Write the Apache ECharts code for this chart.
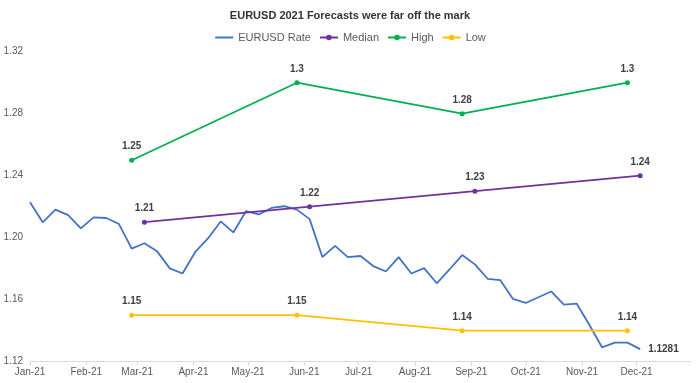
<!DOCTYPE html>
<html><head><meta charset="utf-8">
<script src="https://cdn.jsdelivr.net/npm/echarts@6/dist/echarts.min.js"></script>
<style>html,body{margin:0;padding:0;background:#fff}#c{width:700px;height:383px}</style>
</head><body><div id="c"></div>
<script>
const chartTitle = 'EURUSD 2021 Forecasts were far off the mark';
const rateDates = [
  '2021-01-01','2021-01-08','2021-01-15','2021-01-22','2021-01-29',
  '2021-02-05','2021-02-12','2021-02-19','2021-02-26',
  '2021-03-05','2021-03-12','2021-03-19','2021-03-26',
  '2021-04-02','2021-04-09','2021-04-16','2021-04-23','2021-04-30',
  '2021-05-07','2021-05-14','2021-05-21','2021-05-28',
  '2021-06-04','2021-06-11','2021-06-18','2021-06-25',
  '2021-07-02','2021-07-09','2021-07-16','2021-07-23','2021-07-30',
  '2021-08-06','2021-08-13','2021-08-20','2021-08-27',
  '2021-09-03','2021-09-10','2021-09-17','2021-09-24',
  '2021-10-01','2021-10-08','2021-10-15','2021-10-22','2021-10-29',
  '2021-11-05','2021-11-12','2021-11-19','2021-11-26',
  '2021-12-03'
];
const rateValues = [
  1.2229,1.2099,1.2181,1.2146,1.2060,1.2131,1.2127,1.2088,1.1930,1.1964,
  1.1912,1.1802,1.1769,1.1908,1.1995,1.2105,1.2034,1.2172,1.2150,1.2192,
  1.2203,1.2181,1.2120,1.1875,1.1947,1.1875,1.1882,1.1817,1.1782,1.1875,
  1.1769,1.1804,1.1706,1.1795,1.1888,1.1828,1.1735,1.1726,1.1605,1.1579,
  1.1616,1.1653,1.1568,1.1575,1.1438,1.1293,1.1323,1.1323,1.1281
];
const highLowDates = ['2021-02-26','2021-05-28','2021-08-27','2021-11-26'];
const medianDates = ['2021-03-05','2021-06-04','2021-09-03','2021-12-03'];
const medianValues = [1.21, 1.22, 1.23, 1.24];
const highValues = [1.25, 1.30, 1.28, 1.30];
const lowValues = [1.15, 1.15, 1.14, 1.14];
const monthTickDates = ['2021-01-01','2021-02-01','2021-03-01','2021-04-01','2021-05-01','2021-06-01',
  '2021-07-01','2021-08-01','2021-09-01','2021-10-01','2021-11-01','2021-12-01'];
const monthTickLabels = ['Jan-21','Feb-21','Mar-21','Apr-21','May-21','Jun-21',
  'Jul-21','Aug-21','Sep-21','Oct-21','Nov-21','Dec-21'];
const yMin = 1.12, yMax = 1.32, yStep = 0.04;

function dayOf(s){const p=s.split('-').map(Number);return (Date.UTC(p[0],p[1]-1,p[2])-Date.UTC(2021,0,1))/86400000;}
function pairs(ds, vs){return ds.map((d,i)=>[dayOf(d), vs[i]]);}
const tickDays = monthTickDates.map(dayOf);

const FONT = "'Liberation Sans', Arial, sans-serif";
const lbl = {show:true, position:'top', distance:6, fontSize:10, fontWeight:'bold', color:'#404040', fontFamily:FONT,
  formatter: p => String(p.value[1])};

const chart = echarts.init(document.getElementById('c'), null, {renderer:'canvas'});
chart.setOption({
  animation:false,
  textStyle:{fontFamily:FONT},
  title:{text:chartTitle, left:'center', top:5, textStyle:{fontSize:11, fontWeight:'bold', color:'#333', fontFamily:FONT}},
  legend:{top:27, left:'center', itemWidth:18, itemHeight:7, itemGap:8,
    textStyle:{fontSize:11, color:'#595959', fontFamily:FONT},
    data:[{name:'EURUSD Rate', itemStyle:{opacity:0}},'Median','High','Low']},
  grid:{left:30, right:9, top:51.7, bottom:21.3, containLabel:false},
  xAxis:{type:'value', min:0, max:364,
    axisLine:{lineStyle:{color:'#d9d9d9'}},
    axisTick:{show:true, customValues:tickDays, length:4, lineStyle:{color:'#d9d9d9'}},
    axisLabel:{customValues:tickDays, fontSize:10, color:'#595959', margin:6, fontFamily:FONT,
      formatter: v => monthTickLabels[tickDays.indexOf(v)]},
    splitLine:{show:false}},
  yAxis:{type:'value', min:yMin, max:yMax, interval:yStep,
    axisLine:{show:false}, axisTick:{show:false}, splitLine:{show:false},
    axisLabel:{fontSize:10, color:'#595959', margin:7, fontFamily:FONT, formatter: v => v.toFixed(2)}},
  series:[
    {name:'EURUSD Rate', type:'line', data:pairs(rateDates, rateValues), symbol:'none',
      lineStyle:{width:1.8, color:'#4472C4'}, itemStyle:{color:'#4472C4'},
      endLabel:{show:true, distance:8, fontSize:10, fontWeight:'bold', color:'#404040', fontFamily:FONT,
        formatter: p => p.value[1].toFixed(4)}},
    {name:'Median', type:'line', data:pairs(medianDates, medianValues), symbol:'circle', symbolSize:5,
      lineStyle:{width:1.8, color:'#7030A0'}, itemStyle:{color:'#7030A0'}, label:lbl},
    {name:'High', type:'line', data:pairs(highLowDates, highValues), symbol:'circle', symbolSize:5,
      lineStyle:{width:1.8, color:'#00B050'}, itemStyle:{color:'#00B050'}, label:lbl},
    {name:'Low', type:'line', data:pairs(highLowDates, lowValues), symbol:'circle', symbolSize:5,
      lineStyle:{width:1.8, color:'#FFC000'}, itemStyle:{color:'#FFC000'}, label:lbl}
  ]
});
</script></body></html>
